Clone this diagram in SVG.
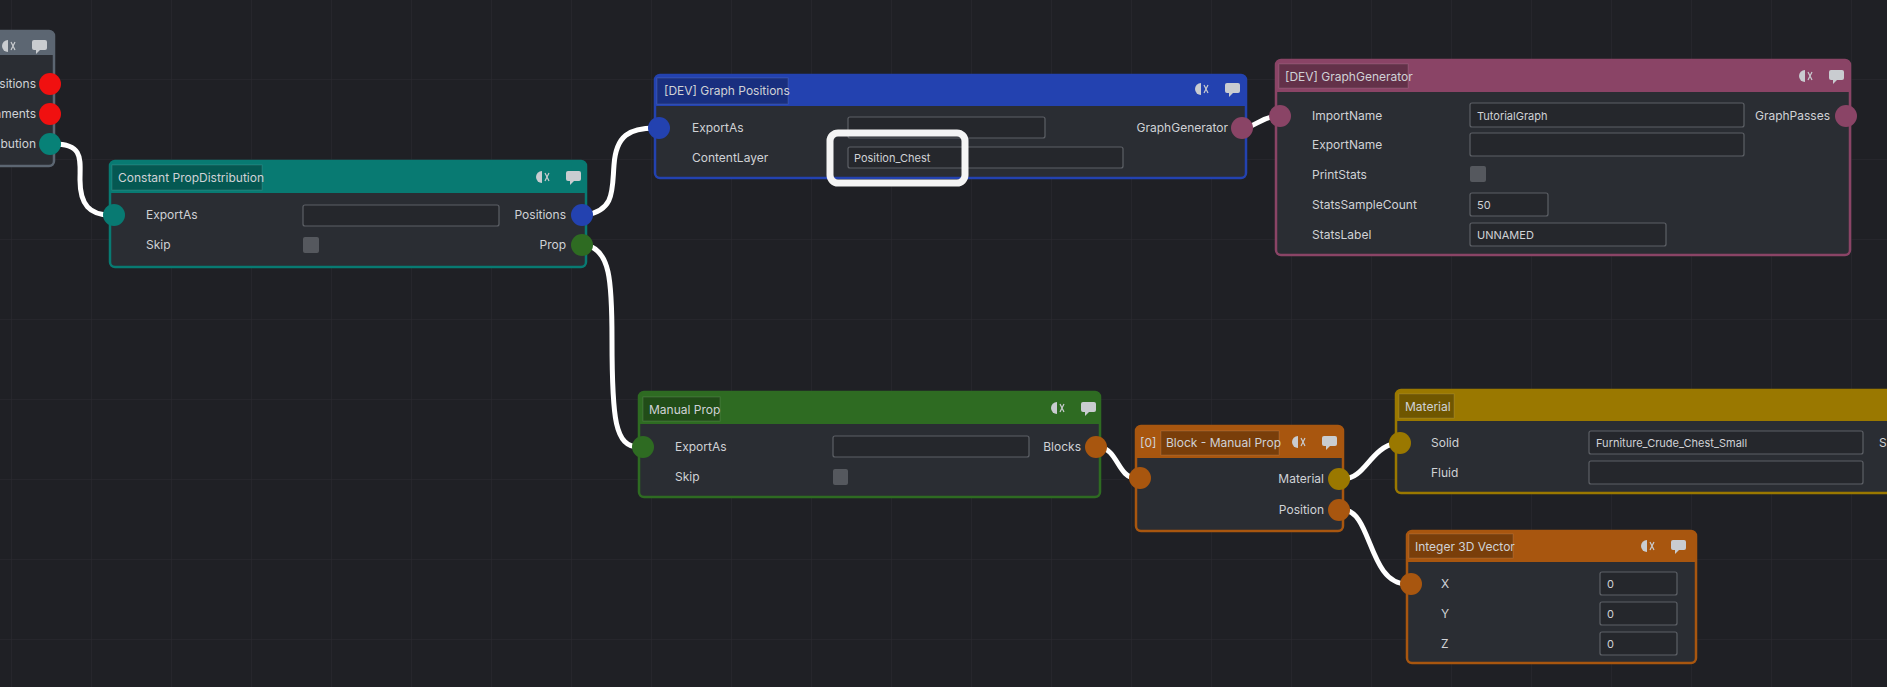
<svg xmlns="http://www.w3.org/2000/svg" width="1887" height="687" viewBox="0 0 1887 687">
<defs>
<pattern id="grid" width="80" height="80" patternUnits="userSpaceOnUse" x="12" y="0">
<path d="M80 0V80M0 80H80" stroke="#2b2c31" stroke-width="1" fill="none"/>
</pattern>
<g id="icons">
<path d="M0 -6 A6 6 0 0 0 0 6 Z" fill="#c9ccd0"/>
<path d="M3 -4 L7 4 M7 -4 L3 4" stroke="#c9ccd0" stroke-width="1.2"/>
<rect x="24" y="-6" width="15" height="10" rx="2" fill="#c9ccd0"/>
<path d="M28 4 L28 8 L32 4Z" fill="#c9ccd0"/>
</g>
</defs>
<style>
text{font-family:Inter,"Noto Sans",sans-serif;font-size:12px;fill:#d0d2d6}
.r{text-anchor:end}
.v{font-size:11px}
.body{fill:#2a2d33;stroke-width:2.5}
.tb{fill:rgba(0,0,0,0.28);stroke:rgba(255,255,255,0.12)}
.in{fill:#25272c;stroke:#5d6066;stroke-width:1.2}
.cb{fill:#55585e}
.wire{fill:none;stroke:#fff;stroke-width:5;stroke-linecap:round}
</style>
<rect width="1887" height="687" fill="#1f2025"/>
<rect width="1887" height="687" fill="url(#grid)"/>

<g id="connectors">
<path class="wire" d="M54 144 C84 144 80 160 80 180 C80 205 90 215 110 215"/>
<path class="wire" d="M586 215 C615 210 612 190 614 165 C616 135 630 128 655 128"/>
<path class="wire" d="M586 245 C610 250 612 280 612 340 C612 420 615 447 639 447"/>
<path class="wire" d="M1246 128 C1258 124 1262 118 1276 116"/>
<path class="wire" d="M1100 447 C1118 450 1118 478 1136 478"/>
<path class="wire" d="M1343 479 C1365 479 1370 448 1396 443"/>
<path class="wire" d="M1343 510 C1372 510 1368 584 1407 584"/>
</g>

<g id="node-left">
<rect class="body" x="-20" y="31" width="74" height="135" rx="5" stroke="#5c6672"/>
<path d="M-20 31 H49 A5 5 0 0 1 54 36 V55 H-20Z" fill="#5c6672"/>
<use href="#icons" x="8" y="46"/>
<text class="r" x="36" y="88">sitions</text>
<text class="r" x="36" y="118">aments</text>
<text class="r" x="36" y="148">ibution</text>
<circle cx="50" cy="84" r="11" fill="#f01010"/>
<circle cx="50" cy="114" r="11" fill="#f01010"/>
<circle cx="50" cy="144" r="11" fill="#078177"/>
</g>

<g id="node-constant-prop">
<rect class="body" x="110" y="161" width="476" height="106" rx="5" stroke="#087a72"/>
<path d="M110 193 V166 A5 5 0 0 1 115 161 H581 A5 5 0 0 1 586 166 V193Z" fill="#087a72"/>
<rect class="tb" x="112" y="165" width="150" height="25"/>
<text x="118" y="182">Constant PropDistribution</text>
<use href="#icons" x="542" y="177"/>
<text x="146" y="219">ExportAs</text>
<text x="146" y="249">Skip</text>
<rect class="in" x="303" y="205" width="196" height="21" rx="2"/>
<rect class="cb" x="303" y="237" width="16" height="16" rx="2"/>
<text class="r" x="566" y="219">Positions</text>
<text class="r" x="566" y="249">Prop</text>
<circle cx="114" cy="215" r="11" fill="#087a72"/>
<circle cx="582" cy="215" r="11" fill="#2342b0"/>
<circle cx="582" cy="245" r="11" fill="#2e6b22"/>
</g>

<g id="node-graph-positions">
<rect class="body" x="655" y="75" width="591" height="103" rx="5" stroke="#2342b0"/>
<path d="M655 106 V80 A5 5 0 0 1 660 75 H1241 A5 5 0 0 1 1246 80 V106Z" fill="#2342b0"/>
<rect class="tb" x="657" y="78" width="131" height="26"/>
<text x="664" y="95">[DEV] Graph Positions</text>
<use href="#icons" x="1201" y="89"/>
<text x="692" y="132">ExportAs</text>
<text x="692" y="162">ContentLayer</text>
<rect class="in" x="848" y="117" width="197" height="21" rx="2"/>
<rect class="in" x="848" y="147" width="275" height="21" rx="2"/>
<text class="v" x="854" y="162">Position_Chest</text>
<text class="r" x="1228" y="132">GraphGenerator</text>
<circle cx="659" cy="128" r="11" fill="#2342b0"/>
<circle cx="1242" cy="128" r="11" fill="#8a4466"/>
<rect x="830" y="133" width="135" height="50" rx="8" fill="none" stroke="#f4f4f4" stroke-width="7"/>
</g>

<g id="node-graph-generator">
<rect class="body" x="1276" y="60" width="574" height="195" rx="5" stroke="#8a4466"/>
<path d="M1276 92 V65 A5 5 0 0 1 1281 60 H1845 A5 5 0 0 1 1850 65 V92Z" fill="#8a4466"/>
<rect class="tb" x="1279" y="64" width="129" height="24"/>
<text x="1285" y="81">[DEV] GraphGenerator</text>
<use href="#icons" x="1805" y="76"/>
<text x="1312" y="120">ImportName</text>
<text x="1312" y="149">ExportName</text>
<text x="1312" y="179">PrintStats</text>
<text x="1312" y="209">StatsSampleCount</text>
<text x="1312" y="239">StatsLabel</text>
<rect class="in" x="1470" y="103" width="274" height="24" rx="2"/>
<text class="v" x="1477" y="120">TutorialGraph</text>
<rect class="in" x="1470" y="133" width="274" height="23" rx="2"/>
<rect class="cb" x="1470" y="166" width="16" height="16" rx="2"/>
<rect class="in" x="1470" y="193" width="78" height="23" rx="2"/>
<text class="v" x="1477" y="209">50</text>
<rect class="in" x="1470" y="223" width="196" height="23" rx="2"/>
<text class="v" x="1477" y="239">UNNAMED</text>
<text class="r" x="1830" y="120">GraphPasses</text>
<circle cx="1846" cy="116" r="11" fill="#8a4466"/>
<circle cx="1280" cy="116" r="11" fill="#8a4466"/>
</g>

<g id="node-manual-prop">
<rect class="body" x="639" y="392" width="461" height="105" rx="5" stroke="#2e6b22"/>
<path d="M639 424 V397 A5 5 0 0 1 644 392 H1095 A5 5 0 0 1 1100 397 V424Z" fill="#2e6b22"/>
<rect class="tb" x="643" y="397" width="77" height="24"/>
<text x="649" y="414">Manual Prop</text>
<use href="#icons" x="1057" y="408"/>
<text x="675" y="451">ExportAs</text>
<text x="675" y="481">Skip</text>
<rect class="in" x="833" y="436" width="196" height="21" rx="2"/>
<rect class="cb" x="833" y="469" width="15" height="16" rx="2"/>
<text class="r" x="1081" y="451">Blocks</text>
<circle cx="643" cy="447" r="11" fill="#2e6b22"/>
<circle cx="1096" cy="447" r="11" fill="#a8560f"/>
</g>

<g id="node-block">
<rect class="body" x="1136" y="426" width="207" height="105" rx="5" stroke="#a8560f"/>
<path d="M1136 458 V431 A5 5 0 0 1 1141 426 H1338 A5 5 0 0 1 1343 431 V458Z" fill="#a8560f"/>
<text x="1140" y="447">[0]</text>
<rect class="tb" x="1161" y="431" width="118" height="24"/>
<text x="1166" y="447">Block - Manual Prop</text>
<use href="#icons" x="1298" y="442"/>
<text class="r" x="1324" y="483">Material</text>
<text class="r" x="1324" y="514">Position</text>
<circle cx="1140" cy="478" r="11" fill="#a8560f"/>
<circle cx="1339" cy="479" r="11" fill="#9a7800"/>
<circle cx="1339" cy="510" r="11" fill="#a8560f"/>
</g>

<g id="node-material">
<rect class="body" x="1396" y="390" width="520" height="103" rx="5" stroke="#9a7800"/>
<path d="M1396 421 V395 A5 5 0 0 1 1401 390 H1916 V421Z" fill="#9a7800"/>
<rect class="tb" x="1399" y="394" width="55" height="24"/>
<text x="1405" y="411">Material</text>
<text x="1431" y="447">Solid</text>
<text x="1431" y="477">Fluid</text>
<rect class="in" x="1589" y="431" width="274" height="23" rx="2"/>
<text class="v" x="1596" y="447">Furniture_Crude_Chest_Small</text>
<rect class="in" x="1589" y="461" width="274" height="23" rx="2"/>
<text x="1879" y="447">S</text>
<circle cx="1400" cy="443" r="11" fill="#9a7800"/>
</g>

<g id="node-int3d">
<rect class="body" x="1407" y="531" width="289" height="132" rx="5" stroke="#a8560f"/>
<path d="M1407 562 V536 A5 5 0 0 1 1412 531 H1691 A5 5 0 0 1 1696 536 V562Z" fill="#a8560f"/>
<rect class="tb" x="1409" y="534" width="104" height="24"/>
<text x="1415" y="551">Integer 3D Vector</text>
<use href="#icons" x="1647" y="546"/>
<text x="1441" y="588">X</text>
<text x="1441" y="618">Y</text>
<text x="1441" y="648">Z</text>
<rect class="in" x="1600" y="572" width="77" height="23" rx="2"/>
<rect class="in" x="1600" y="602" width="77" height="23" rx="2"/>
<rect class="in" x="1600" y="632" width="77" height="23" rx="2"/>
<text class="v" x="1607" y="588">0</text>
<text class="v" x="1607" y="618">0</text>
<text class="v" x="1607" y="648">0</text>
<circle cx="1411" cy="584" r="11" fill="#a8560f"/>
</g>
</svg>
